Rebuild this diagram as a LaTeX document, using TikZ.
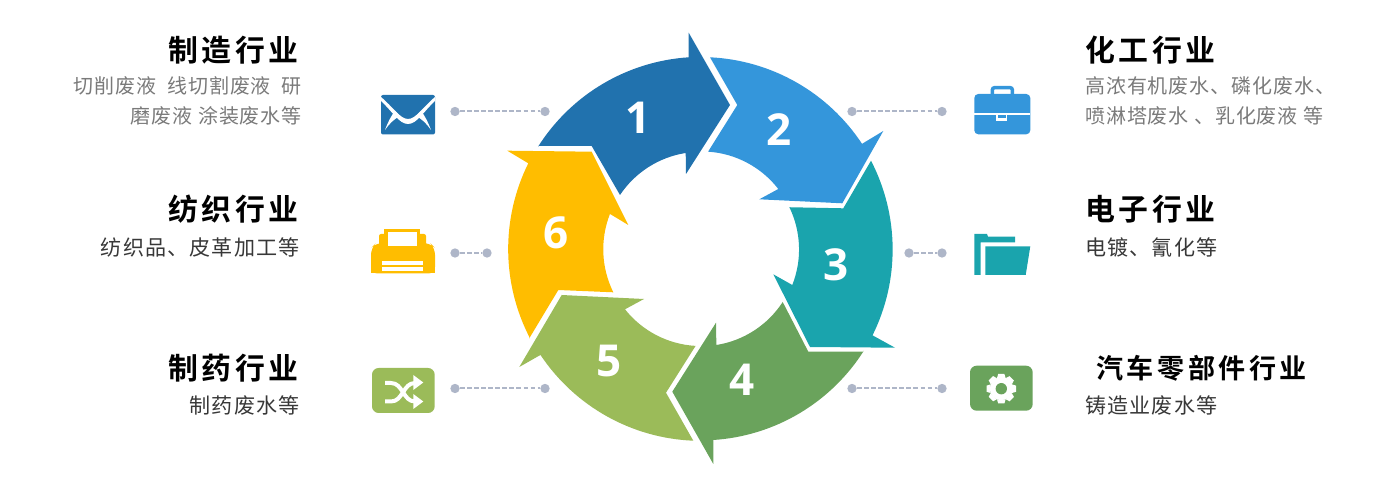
\documentclass[tikz,border=0pt]{standalone}
\usepackage{fontspec}
\setmainfont{Noto Sans}
\newfontfamily\cjkh[LetterSpace=12]{Noto Sans CJK SC Bold}
\newfontfamily\cjkk[LetterSpace=13]{Noto Sans CJK SC Bold}
\newfontfamily\cjkb[LetterSpace=5.5]{Noto Sans CJK SC}
\newfontfamily\cjkg[LetterSpace=4.5]{Noto Sans CJK SC}
\newfontfamily\numf{Open Sans}
\definecolor{cA}{HTML}{2172AE}
\definecolor{cB}{HTML}{3496DB}
\definecolor{cC}{HTML}{1AA4AD}
\definecolor{cD}{HTML}{6AA35C}
\definecolor{cE}{HTML}{9BBB59}
\definecolor{cF}{HTML}{FFBD00}
\definecolor{dotc}{HTML}{AEB6C8}
\tikzset{
  x=.75pt,y=-.75pt,
  digit/.style={text=white,font=\numf\bfseries\fontsize{33}{33}\selectfont,inner sep=0pt},
  headl/.style={anchor=east,inner sep=0pt,text=black,font=\cjkh\fontsize{22.4}{24}\selectfont},
  headr/.style={anchor=west,inner sep=0pt,text=black,font=\cjkh\fontsize{22.4}{24}\selectfont},
  headk/.style={anchor=west,inner sep=0pt,text=black,font=\cjkk\fontsize{20.3}{24}\selectfont},
  bodyl/.style={anchor=east,align=right,inner sep=0pt,text=black!52,font=\cjkg\fontsize{15}{22.5}\selectfont},
  bodyr/.style={anchor=west,align=left,inner sep=0pt,text=black!52,font=\cjkg\fontsize{15}{22.5}\selectfont},
  darkl/.style={anchor=east,inner sep=0pt,text=black!78,font=\cjkb\fontsize{15.8}{22.5}\selectfont},
  darkr/.style={anchor=west,inner sep=0pt,text=black!78,font=\cjkb\fontsize{15.8}{22.5}\selectfont},
  dotn/.style={circle,fill=dotc,minimum size=7pt,inner sep=0pt},
  link/.style={draw=dotc,line width=1.5pt,dash pattern=on 3.5pt off 1.8pt},
}
\begin{document}
\begin{tikzpicture}
\useasboundingbox (0,0) rectangle (1400,491);
\def\Ro{193}\def\Ri{97}
% arrows
\fill[cA] (538.3,146) -- (591.7,146) -- (620,195)
  arc[start angle=213.7,end angle=261.1,radius=\Ri] -- (686,174) -- (730,105) -- (688.7,32.7) -- (688.7,57.3)
  arc[start angle=266.3,end angle=212.3,radius=\Ro] -- cycle;
\fill[cB] (710,57.3) arc[start angle=272.7,end angle=326.6,radius=\Ro] -- (883.3,131) -- (842.3,203.3) -- (759.3,199.3) -- (778.3,189)
  arc[start angle=322.2,end angle=273.8,radius=\Ri] -- (737.3,105) -- cycle;
\fill[cC] (871,160.7) arc[start angle=332.6,end angle=386.4,radius=\Ro] -- (895,347.7) -- (810,347) -- (773.3,274.3) -- (792.3,285)
  arc[start angle=21.5,end angle=-25.8,radius=\Ri] -- (843.3,208.3) -- cycle;
\fill[cD] (863.3,351.7) -- (808.3,351.7) -- (782.7,302) arc[start angle=33,end angle=81.1,radius=\Ri] -- (716,322.7) -- (672.3,391.7) -- (713.3,464) -- (713.3,440)
  arc[start angle=86.3,end angle=32.3,radius=\Ro] -- cycle;
\fill[cE] (693.3,440.7) arc[start angle=92.3,end angle=146.3,radius=\Ro] -- (519.3,367) -- (561.7,295) -- (644,299) -- (625,309.3)
  arc[start angle=141.6,end angle=93.2,radius=\Ri] -- (666,392.7) -- cycle;
\fill[cF] (529.3,338.3) -- (558.3,290) -- (613.3,292.3) arc[start angle=153.7,end angle=201.4,radius=\Ri] -- (628.3,225) -- (591.7,151.7) -- (507.3,150.7) -- (528.3,163.3)
  arc[start angle=206.4,end angle=152.5,radius=\Ro] -- cycle;
% digits
\node[digit] (n1) at (638,118) {1};
\node[digit] (n2) at (779,130) {2};
\node[digit] (n3) at (836,265) {3};
\node[digit] (n4) at (742,380) {4};
\node[digit] (n5) at (609,361) {5};
\node[digit] (n6) at (556,233) {6};
% connectors
\node[dotn] (a1) at (455,111.5) {}; \node[dotn] (a2) at (545,111.5) {};
\node[dotn] (b1) at (455,253) {}; \node[dotn] (b2) at (487,253) {};
\node[dotn] (c1) at (455,388.5) {}; \node[dotn] (c2) at (545,388.5) {};
\node[dotn] (d1) at (852,111.5) {}; \node[dotn] (d2) at (942,111.5) {};
\node[dotn] (e1) at (909,253) {}; \node[dotn] (e2) at (942,253) {};
\node[dotn] (f1) at (852,388.5) {}; \node[dotn] (f2) at (942,388.5) {};
\foreach \p/\q in {a1/a2,b1/b2,c1/c2,d1/d2,e1/e2,f1/f2}{\draw[link] (\p) -- (\q);}
% envelope
\fill[cA,rounded corners=1.5pt] (381,95) rectangle (435,134.5);
\fill[white] (381,97) .. controls (393,107) and (400,119) .. (408,119) .. controls (416,119) and (423,107) .. (435,97) -- (435,101) .. controls (424,111) and (417,124) .. (408,124) .. controls (399,124) and (392,111) .. (381,101) -- cycle;
\fill[white] (385,130) .. controls (388,122) and (391,116) .. (395,111) -- (400,116) .. controls (394,119) and (389,124) .. (385,130) -- cycle;
\fill[white] (431,130) .. controls (428,122) and (425,116) .. (421,111) -- (416,116) .. controls (422,119) and (427,124) .. (431,130) -- cycle;
% printer
\fill[cF] (384,229.5) rectangle (420,237);
\fill[cF,rounded corners=1.5pt] (379,234) rectangle (426,255);
\fill[cF,rounded corners=5pt] (371,273.5) -- (371,248) -- (376,243) -- (430,243) -- (435,248) -- (435,273.5) -- cycle;
\fill[cF] (371,262) rectangle (435,273.5);
\fill[white] (388,232) rectangle (417.3,246);
\fill[white] (381.7,261) rectangle (423.3,265);
\fill[white] (381.7,267) rectangle (423.3,271);
% shuffle box
\fill[cE,rounded corners=5pt] (372,368) rectangle (434.7,413);
\draw[white,line width=3pt] (385,383) -- (391,383) .. controls (403,383) and (403,401.5) .. (415,401.5);
\draw[white,line width=3pt] (385,401.5) -- (391,401.5) .. controls (403,401.5) and (403,383) .. (415,383);
\fill[white] (413.3,375) -- (423.3,382.5) -- (413.3,390) -- cycle;
\fill[white] (413.3,394) -- (423.3,401.5) -- (413.3,409) -- cycle;
% briefcase
\draw[cB,line width=2.6pt,rounded corners=1.5pt] (992.4,95) -- (992.4,87.7) -- (1012.3,87.7) -- (1012.3,95);
\fill[cB,rounded corners=3pt] (974.3,94) rectangle (1030.3,134.3);
\fill[white] (974.3,113.3) rectangle (1030.3,115);
\fill[white] (995.7,113.3) rectangle (1007.3,121.3);
\fill[cB] (998,115.3) rectangle (1005.7,118.3);
% folder
\fill[cC] (974.3,234) -- (987,234) -- (988,236.7) -- (1015,236.7) -- (1015,242.3) -- (980.7,242.3) -- (980.7,275) -- (974.3,275) -- cycle;
\fill[cC] (985.3,246.3) -- (1030.3,246.3) -- (1025.7,275) -- (985.3,275) -- cycle;
% gear box
\fill[cD,rounded corners=5pt] (970,365.7) rectangle (1032.7,410.7);
\fill[white] (1001.3,388.7) circle[radius=11.5];
\foreach \a in {0,45,...,315}{\fill[white,rotate around={\a:(1001.3,388.7)}] (997,378) -- (998.2,374) -- (1004.4,374) -- (1005.6,378) -- cycle;}
\fill[cD] (1001.3,388.7) circle[radius=5.7];
% left text
\node[headl] (t1) at (299,50) {制造行业};
\node[bodyl] (t1b) at (302,101) {切削废液\ \ 线切割废液\ \ 研\\磨废液 涂装废水等};
\node[headl] (t2) at (299,209) {纺织行业};
\node[darkl] (t2b) at (300,247) {纺织品、皮革加工等};
\node[headl] (t3) at (299,368) {制药行业};
\node[darkl] (t3b) at (300,405) {制药废水等};
% right text
\node[headr] (r1) at (1085,50) {化工行业};
\node[bodyr] (r1b) at (1085,101) {高浓有机废水、磷化废水、\\喷淋塔废水 、乳化废液 等};
\node[headr] (r2) at (1085,209) {电子行业};
\node[darkr] (r2b) at (1085,247) {电镀、氰化等};
\node[headk] (r3) at (1096,368) {汽车零部件行业};
\node[darkr] (r3b) at (1085,405) {铸造业废水等};
\end{tikzpicture}
\end{document}
